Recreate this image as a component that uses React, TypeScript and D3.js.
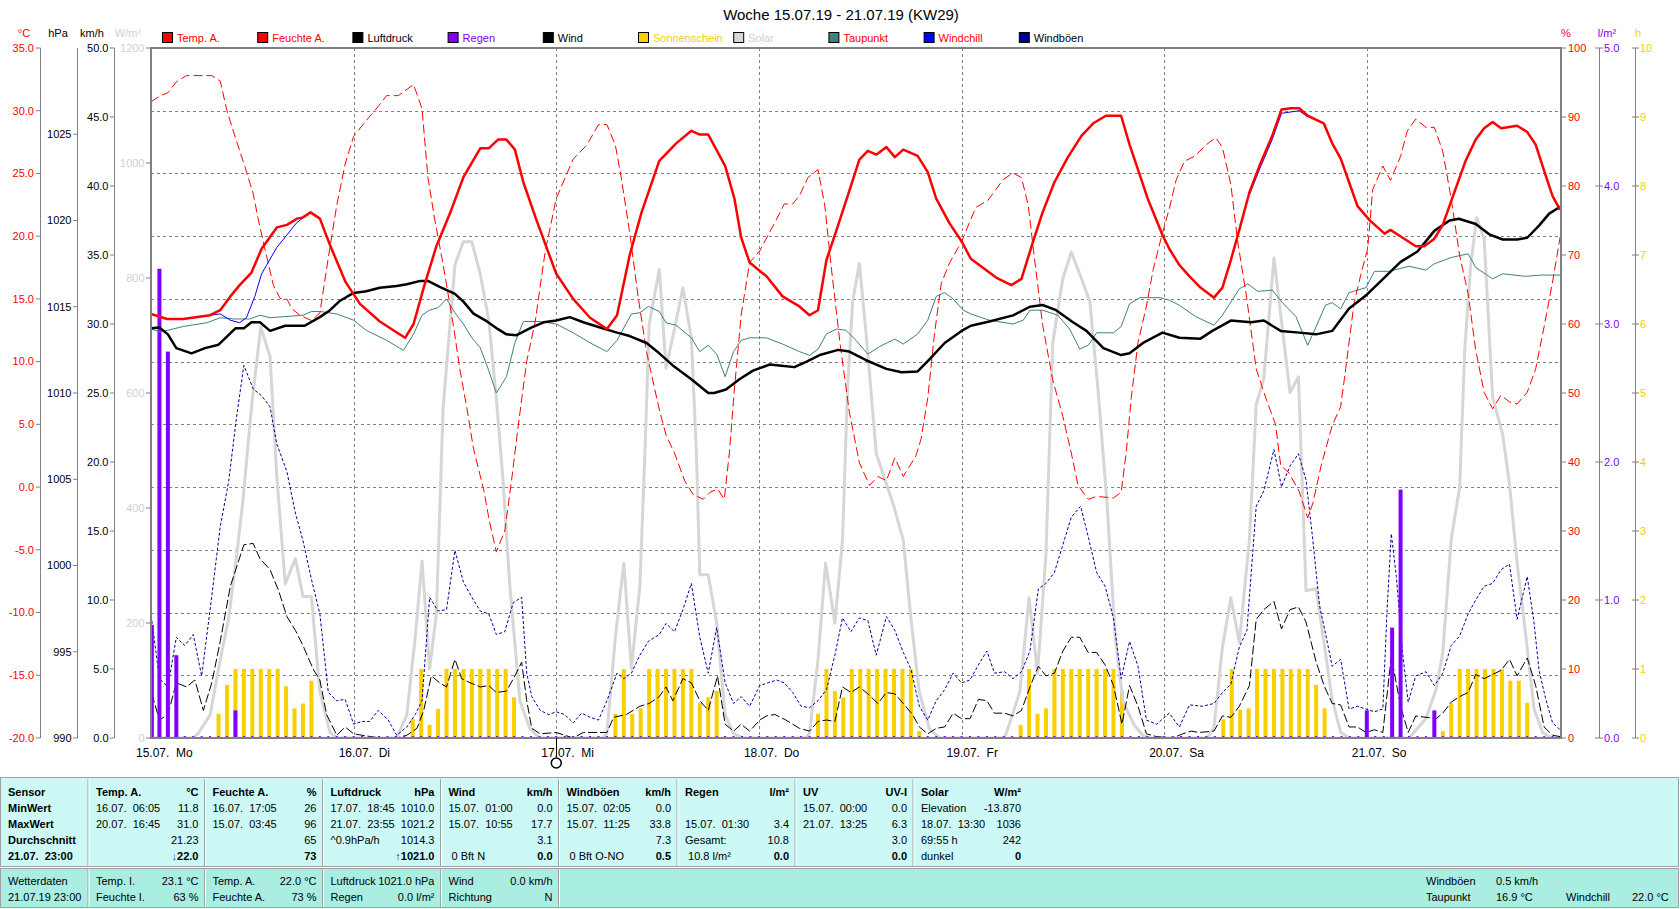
import React from 'react';
import * as d3 from 'd3';

type P = [number, number];

const TITLE = 'Woche 15.07.19 - 21.07.19 (KW29)';
const dayLabels = ['15.07.\u00a0\u00a0Mo', '16.07.\u00a0\u00a0Di', '17.07.\u00a0\u00a0Mi', '18.07.\u00a0\u00a0Do', '19.07.\u00a0\u00a0Fr', '20.07.\u00a0\u00a0Sa', '21.07.\u00a0\u00a0So'];
const tempTicks = [-20, -15, -10, -5, 0, 5, 10, 15, 20, 25, 30, 35];
const hpaTicks = [990, 995, 1000, 1005, 1010, 1015, 1020, 1025];
const kmhTicks = [0, 5, 10, 15, 20, 25, 30, 35, 40, 45, 50];
const solarTicks = [0, 200, 400, 600, 800, 1000, 1200];
const pctTicks = [0, 10, 20, 30, 40, 50, 60, 70, 80, 90, 100];
const rainTicks = [0, 1, 2, 3, 4, 5];
const sunTicks = [0, 1, 2, 3, 4, 5, 6, 7, 8, 9, 10];

const tempA: P[] = [[0,13.8],[1.9,13.4],[3.8,13.4],[7,13.7],[8.2,14.1],[9.4,15.2],[10.5,16.1],[11.9,17.1],[13.1,19.0],[14.9,20.7],[16.1,20.9],[17.3,21.4],[18,21.5],[18.9,21.9],[20,21.4],[21.2,19.3],[23,16.4],[24.75,14.6],[27.1,13.2],[28.7,12.5],[30.1,11.9],[31.1,13.0],[32.3,15.9],[33.8,19.2],[35.4,21.8],[37,24.7],[39,27.0],[40,27.0],[41.1,27.7],[42.1,27.7],[43.1,26.9],[44.1,24.3],[45.7,21.2],[48,17.0],[50,15.0],[52,13.5],[54,12.6],[55.2,13.7],[56.7,18.5],[58.1,21.9],[60.2,26.0],[62.2,27.4],[64,28.4],[65,28.1],[66,28.1],[68,25.6],[69.1,23.0],[69.9,19.9],[70.9,17.9],[72.9,16.8],[74.8,15.2],[76.8,14.4],[78,13.7],[79,14.1],[80,18.1],[81.2,20.5],[82.7,23.6],[83.9,26.1],[84.9,26.8],[85.9,26.5],[87.1,27.1],[88.1,26.3],[89.1,26.9],[90.8,26.4],[92,25.1],[93,23.0],[94.6,21.0],[96,19.6],[97.1,18.2],[98.5,17.5],[100.1,16.7],[101.9,16.1],[103.1,16.6],[104.3,19.2],[105.6,21.9],[107,24.3],[108.6,26.3],[110.2,28.0],[111.6,29.0],[113.1,29.6],[114.9,29.6],[115.9,27.3],[117.1,24.9],[118.1,22.9],[119.8,20.1],[120.6,19.0],[121.8,17.7],[123,16.8],[124.3,15.9],[125.9,15.1],[126.9,15.9],[127.9,18.1],[128.9,20.5],[130.1,23.5],[131.4,25.8],[132.8,28.0],[133.9,30.1],[135,30.2],[136,30.2],[137,29.6],[138.9,29.0],[139.9,27.4],[140.9,26.2],[141.9,24.3],[142.9,22.4],[144.3,21.3],[146.1,20.2],[146.8,20.5],[148.2,19.9],[149.8,19.2],[150.8,19.2],[152,19.8],[153,20.9],[154.1,23.0],[155.7,26.0],[156.9,27.7],[157.9,28.6],[158.9,29.1],[159.9,28.6],[161.8,28.8],[163,28.3],[164,27.3],[165.2,24.8],[166,23.2],[166.9,22.1]];

const windchillMon: P[] = [[7,13.7],[8.2,13.8],[9.4,13.3],[10.5,13.1],[11.3,13.5],[12.3,15.2],[13.1,17.0],[14.9,19.1],[16.1,20.1],[17.3,21.1],[18.9,21.9]];
const windchillSat: P[] = [[130.1,23.3],[131.4,25.5],[132.8,27.7],[133.9,29.8],[135,29.9],[136,30.0],[137,29.5]];

const humidity: P[] = [[0,92.2],[1.1,93.1],[2,93.5],[3,95.1],[4.2,96],[7.2,96],[8.2,95.2],[9,90.9],[10.1,86.6],[11.1,82.9],[12.1,78.9],[12.7,75.2],[13.3,71.9],[14.5,65.6],[15.3,63.7],[16.1,63.6],[16.7,62.2],[17.6,61.3],[19,60.5],[20,61.6],[21,69.6],[22,77.2],[23,83.2],[24,87.2],[25.5,89.5],[26.9,91.5],[27.9,93.1],[29.3,93.1],[31.1,94.7],[32.1,91.2],[32.8,81.2],[33.6,75.2],[34.6,68.6],[35.8,59.9],[36.6,53.3],[37.4,47.9],[38.2,41.9],[39.4,36.0],[40.1,31.3],[40.9,27.0],[41.9,30.0],[42.7,37.3],[43.5,45.3],[44.5,54.6],[45.5,60.3],[46.7,70.6],[48,78.2],[50,83.9],[51.6,85.9],[53,88.9],[54,88.9],[55,85.9],[55.7,81.2],[56.7,73.2],[57.7,63.9],[58.7,55.9],[60.2,47.6],[61,43.9],[62,41.3],[63.2,37.3],[64.2,35.3],[65.4,34.6],[66.2,35.6],[67.1,36.1],[67.9,34.6],[68.5,41.3],[69.1,50.6],[69.9,61.3],[70.9,68.9],[72.1,70.6],[73.1,72.9],[74.1,75.2],[75,77.4],[76,77.4],[76.8,78.6],[77.8,81.2],[79,82.4],[79.8,77.2],[80.6,67.9],[81.6,57.3],[82.7,47.3],[83.9,39.9],[85.1,36.6],[86.1,37.9],[87.1,37.3],[88.1,40.6],[89.1,37.9],[90.6,40.9],[91.2,43.3],[92,49.3],[92.8,58.6],[93.6,65.9],[94.6,68.9],[96,71.9],[96.9,74.6],[97.7,76.9],[99.1,77.9],[99.9,79.2],[100.9,80.9],[102.1,81.9],[103.1,81.2],[103.9,77.2],[104.6,69.9],[105.6,59.9],[106.8,51.9],[108,46.6],[109,41.3],[109.8,36.6],[111,34.6],[112,35.0],[114,34.8],[114.9,35.6],[115.5,41.3],[116.1,49.3],[116.9,57.3],[117.9,62.6],[118.7,67.9],[119.8,73.2],[120.6,76.7],[121.4,80.8],[122.4,83.6],[123.6,84.3],[125,86],[126.1,87],[126.9,85.6],[127.9,80.2],[128.7,72.0],[129.7,64.4],[130.9,53.5],[132,49.4],[133.2,45.4],[133.8,39.5],[134.8,38.4],[136,35.7],[137,31.9],[137.6,34.0],[138.6,39.5],[139.9,45.3],[140.9,48.0],[141.5,53.5],[142.5,63.1],[143.3,67.2],[144.1,70.9],[144.7,79.5],[145.9,82.9],[146.8,80.8],[148,84.3],[148.8,88.0],[149.8,89.7],[151,88.5],[152,88.5],[153,85.0],[154,78.1],[155,69.9],[156,64.4],[156.9,56.2],[157.9,50.1],[158.9,47.7],[159.9,49.7],[160.9,48.7],[161.8,48.4],[163,50.1],[164,53.5],[165,59.6],[166,66.1],[166.9,72.6]];

const pressure: P[] = [[0,1013.75],[1,1013.8],[2,1013.4],[3,1012.6],[4.8,1012.3],[6.4,1012.6],[8,1012.8],[10,1013.75],[11,1013.75],[11.9,1014.1],[12.9,1014.1],[14.1,1013.6],[15.9,1013.9],[18.2,1013.9],[20,1014.4],[21.2,1014.8],[22.4,1015.35],[24,1015.8],[25.5,1015.9],[27.1,1016.1],[29.1,1016.2],[30.3,1016.3],[31.9,1016.5],[32.8,1016.5],[34.2,1016.15],[36,1015.75],[37,1015.3],[38.2,1014.6],[39.8,1014.15],[41.1,1013.7],[42.1,1013.4],[43.3,1013.35],[45.1,1013.8],[46.5,1014.1],[48,1014.2],[49.6,1014.4],[51.2,1014.1],[53.2,1013.8],[55.2,1013.5],[56.7,1013.3],[58.7,1012.9],[60.2,1012.3],[61.8,1011.6],[64,1010.8],[66,1010.0],[66.7,1010.0],[68.1,1010.2],[69.7,1010.8],[71.3,1011.3],[73.3,1011.65],[74.4,1011.6],[76.2,1011.5],[77.6,1011.8],[79.2,1012.2],[81.4,1012.5],[82.7,1012.4],[84.7,1011.9],[87.1,1011.4],[88.9,1011.2],[90.8,1011.25],[92.2,1011.95],[94,1012.9],[96,1013.6],[97.1,1013.9],[99.3,1014.15],[102.1,1014.5],[104.1,1015.0],[105.6,1015.1],[107.2,1014.8],[109.2,1014.1],[110.8,1013.6],[112.8,1012.6],[114.9,1012.2],[115.9,1012.3],[117.5,1012.9],[119.8,1013.5],[121.8,1013.2],[124.3,1013.15],[125.7,1013.6],[127.9,1014.2],[130.3,1014.1],[131.8,1014.2],[133.8,1013.6],[136,1013.5],[138,1013.4],[139.9,1013.6],[141.9,1014.9],[144,1015.7],[145.9,1016.6],[148,1017.6],[150,1018.2],[152,1019.4],[153.8,1020.0],[154.9,1020.1],[156.9,1019.8],[158.5,1019.2],[160.1,1018.9],[161.8,1018.9],[163,1019.0],[164.4,1019.7],[165.6,1020.4],[166.9,1020.8]];

const dewPoint: P[] = [[0,12.6],[1,12.4],[2,12.5],[3.8,12.8],[6.6,13.1],[8.2,13.5],[9.8,13.4],[11.7,13.4],[12.9,13.7],[14.1,13.5],[16.1,13.6],[18,13.7],[19,14.0],[20,14.0],[22,13.8],[24,13.3],[25.5,12.5],[27.9,11.7],[29.9,10.9],[31.1,12.2],[32.1,13.7],[33,14.1],[34,14.3],[35,15.0],[36,13.9],[37,13.0],[38,11.9],[39,11.1],[40,9.3],[40.9,7.5],[42.1,8.8],[43.1,11.5],[44.1,13.2],[46.1,13.2],[48,13.0],[50,12.3],[52,11.5],[54,10.8],[55.2,11.7],[56.9,13.8],[57.9,13.9],[58.9,14.4],[60.2,14.0],[61,13.1],[62.2,12.9],[64,11.9],[65,10.8],[66,11.3],[67,10.6],[68,8.8],[69,10.8],[69.9,11.7],[70.9,11.9],[72.9,11.9],[74.8,11.4],[76.8,10.8],[78,10.5],[79,11.0],[80,12.2],[81.2,12.6],[82.3,12.5],[83.5,11.7],[84.9,10.6],[86.3,11.2],[88.1,11.8],[89.1,11.4],[90.8,12.2],[92,13.3],[93,15.2],[94,15.5],[95,15.0],[96.2,14.1],[97.1,13.8],[99.3,13.3],[102.1,13.0],[103.3,13.3],[104.1,14.1],[105.6,14.1],[107.4,13.7],[108.8,12.6],[110,11.0],[111,11.3],[112,12.3],[114,12.3],[114.9,12.8],[115.9,14.6],[117.1,15.1],[119.5,15.1],[120.6,14.9],[121.8,14.5],[123.7,13.6],[125.9,12.9],[126.9,13.7],[128.9,15.8],[129.9,16.2],[131.1,15.6],[132.8,15.7],[134,14.7],[135.6,13.6],[137,11.3],[138,12.8],[139.1,14.5],[139.9,14.7],[140.9,14.2],[141.9,15.5],[143.9,15.9],[144.9,17.2],[146.6,17.2],[149,17.6],[151,17.3],[152,17.8],[154,18.3],[156,18.6],[156.9,17.5],[158.9,16.6],[160.1,17.0],[162.8,16.8],[164.6,16.9],[166.9,16.9]];

const solar: P[] = [[0,0],[5,0],[5.6,8],[7,40],[8.2,136],[9.2,208],[10.1,312],[10.9,415],[11.9,575],[13,715],[14.1,663],[14.9,455],[15.9,268],[17.1,312],[18,246],[19,246],[20,80],[21.2,10],[22,0],[29.1,0],[30.3,40],[31.3,176],[32.1,308],[33,120],[33.8,216],[34.6,575],[36,823],[37,863],[38,863],[39,807],[40,727],[40.9,591],[41.7,447],[42.5,264],[43.7,64],[44.9,16],[46,0],[53.5,0],[54,8],[55,176],[56,304],[56.9,120],[57.9,264],[58.5,495],[59,719],[60.2,815],[61,643],[62,711],[63,783],[64,695],[64.6,495],[65,284],[66,284],[67,200],[68,40],[69,8],[70.1,0],[77.5,0],[78,8],[79,136],[79.9,304],[81,200],[81.9,344],[82.5,607],[83.1,759],[83.9,825],[84.7,703],[85.9,495],[87.9,407],[89.1,344],[90,208],[91,80],[92.2,16],[93.4,0],[101,0],[101.3,8],[102.9,80],[104,244],[105,112],[106,320],[106.8,687],[108,799],[109,845],[110,807],[111.2,759],[112.2,599],[113.2,415],[114.2,176],[115.1,64],[116.4,24],[117.5,4],[118.3,0],[125.1,0],[125.9,18],[126.9,158],[127.9,244],[128.9,166],[130.1,346],[130.9,580],[131.8,625],[133,835],[133.9,724],[134.9,601],[135.9,628],[136.8,256],[138,260],[139,158],[139.9,67],[140.9,10],[141.9,0],[149,0],[151,34],[152.2,84],[153,149],[154,346],[155,437],[155.6,675],[156.3,822],[157,905],[157.9,868],[158.9,593],[160.1,527],[160.9,441],[161.8,305],[162.8,182],[163.8,51],[164.8,10],[165.8,0],[167,0]];

const wind: P[] = [[0.1,3.2],[1,1.3],[2,1.7],[3,4.0],[4.2,3.7],[5.2,4.2],[6.2,2.0],[7.2,4.0],[8.2,7.0],[9.4,11.0],[11,14.0],[12.1,14.1],[12.9,13.0],[14.1,12.2],[15.1,10.7],[16.1,8.8],[17.1,7.8],[18,6.7],[19.2,5.0],[20,4.2],[20.8,1.7],[22,0.2],[23,0.8],[24,0.3],[25,0.2],[27.1,0],[29.1,0],[30.3,0.2],[31.5,0.7],[32.3,2.0],[33.2,4.5],[34.2,4.0],[35,3.7],[36,5.7],[36.8,4.3],[37.8,4.0],[39,3.7],[40,3.8],[40.9,3.3],[42.1,3.4],[43.1,4.5],[43.9,5.5],[44.5,2.7],[45.1,0.7],[46.1,0.3],[48,0.4],[50,0],[51.2,0.4],[54,0.4],[54.8,1.5],[56.3,1.7],[57.9,2.3],[59,2.5],[60.2,3.0],[61,3.7],[61.8,2.7],[63,4.3],[64,4.0],[65,2.7],[66,2.0],[67.1,4.5],[68,1.0],[69,0.5],[69.9,1.0],[70.9,0.5],[72.1,1.3],[72.9,1.6],[73.9,1.7],[75.2,1.3],[76.8,0.7],[78,0.5],[79,1.2],[80,1.3],[81,1.2],[81.9,3.7],[82.9,3.3],[83.9,3.7],[84.9,3.2],[86.1,2.5],[87.1,3.3],[88.1,3.2],[89.1,2.5],[90.2,1.7],[91,0.8],[92,0.3],[93,0.7],[94,0.8],[95,1.8],[96,1.4],[97,1.4],[98,2.8],[99,2.7],[99.9,1.8],[101.1,1.8],[102.1,1.6],[103.1,2.0],[104.1,3.7],[105.1,5.2],[106,4.5],[107,4.7],[108,6.3],[109,7.3],[110,7.3],[111,6.2],[112,6.2],[113,5.3],[114,3.8],[115,1.0],[115.9,3.8],[116.9,2.3],[117.9,0.3],[119.1,0.1],[121,0],[122.2,0.3],[123.2,0.5],[124.1,0.4],[125.9,0.5],[126.9,1.6],[127.9,1.5],[128.9,2.3],[130.1,3.8],[130.9,8.6],[131.8,9.3],[133,9.9],[133.9,7.9],[134.9,9.3],[135.9,9.5],[136.8,8.4],[138,5.5],[139,3.7],[139.9,2.5],[140.9,2.4],[141.9,0.8],[142.9,0.8],[143.9,0.4],[144.9,0.6],[145.9,0.4],[146.9,5.9],[148,2.3],[148.9,0.4],[149.8,1.6],[151,1.5],[152.2,1.4],[153,1.8],[154,2.6],[155,3.0],[156,3.3],[156.9,4.6],[157.9,4.3],[158.9,4.6],[159.9,4.9],[160.9,5.7],[161.8,4.5],[163,5.8],[164,3.8],[165,0.8],[166,0.2],[166.9,0.1]];

const gusts: P[] = [[0.1,8.5],[1,4.3],[2,3.7],[3,7.3],[4,6.7],[5,7.5],[6,4.5],[7,9.3],[8.2,15.3],[9.2,18.6],[10.1,23.1],[11,27.0],[12.1,25.3],[13.1,24.8],[14.1,24.0],[14.9,21.3],[16.1,19.3],[17.1,16.3],[18,14.3],[19,11.5],[20,9.0],[21,3.3],[22,2.7],[23,2.8],[24,1.0],[25,1.2],[25.9,1.2],[26.9,2.0],[28.1,1.3],[29.1,0.2],[30.3,0.8],[31.3,1.7],[32.1,2.7],[33,10.2],[34,9.2],[35,9.3],[36,13.6],[37,11.3],[38,10.2],[39,9.2],[40,9.0],[40.9,7.5],[41.9,7.7],[42.9,9.8],[43.9,10.2],[44.5,4.7],[45.1,3.0],[46.1,2.0],[47.1,1.7],[48,1.9],[49,1.7],[50,1.1],[51,1.8],[52,1.5],[53,1.3],[54,2.7],[55.2,4.7],[56,4.3],[56.9,4.7],[57.9,6.0],[58.9,7.0],[60.2,7.5],[61,8.3],[62,7.7],[63,9.3],[64,11.2],[65,7.3],[66,4.7],[67,8.0],[68,4.0],[69,2.5],[69.9,3.0],[70.9,2.3],[72.1,3.8],[73.1,4.0],[74.1,4.2],[75,4.0],[76,3.3],[77,2.3],[78,2.2],[79,2.7],[80,3.5],[81,6.0],[81.9,8.7],[82.9,7.7],[83.9,8.7],[84.9,8.5],[85.9,6.0],[87.1,8.8],[88.1,7.8],[89.1,6.2],[90,5.0],[91,2.3],[92,1.3],[93,2.7],[94,3.5],[95,4.7],[96,4.0],[97,4.2],[98,5.3],[99,6.3],[99.9,4.7],[101.1,4.8],[102.1,4.3],[103.1,4.8],[104.1,6.3],[105.1,10.8],[106,11.2],[107,12.0],[108,14.0],[109,16.0],[110.1,16.8],[111,14.6],[112,12.0],[113,11.0],[114,8.7],[114.9,4.3],[115.9,7.0],[116.9,5.2],[117.9,1.3],[119.1,1.0],[120.6,1.8],[121.8,0.8],[123,2.4],[124.5,2.3],[125.9,2.5],[126.9,3.3],[127.9,3.9],[128.9,6.6],[129.8,7.8],[130.9,16.8],[131.8,17.9],[133,20.9],[133.9,18.2],[134.9,19.7],[135.9,20.6],[136.8,18.7],[137.6,14.4],[138.4,9.6],[139.1,7.6],[139.9,5.2],[140.9,5.7],[141.9,2.1],[142.9,2.3],[143.9,2.1],[144.9,1.9],[145.9,2.1],[146.4,9.3],[146.9,14.8],[147.5,11.7],[148.2,6.4],[148.9,2.6],[149.8,4.5],[151,4.8],[152,3.8],[153,4.7],[154,6.7],[155,7.4],[156,9.0],[156.9,10.0],[157.9,11.0],[158.9,11.2],[159.9,12.2],[160.9,12.6],[161.8,8.6],[163,11.7],[163.8,8.4],[164.4,4.9],[165.2,2.8],[166,1.1],[166.9,0.6]];

const sunshine: P[] = [[8,0.35],[9,0.77],[10,1],[11,1],[12,1],[13,1],[14,1],[15,1],[16,0.75],[17,0.43],[18,0.5],[19,0.83],
[31,0.27],[32,1],[33,0.19],[34,0.42],[35,1],[36,1],[37,1],[38,1],[39,1],[40,1],[41,1],[42,1],[43,0.59],
[55,0.35],[56,1],[57,0.35],[58,0.43],[59,1],[60,1],[61,1],[62,1],[63,1],[64,1],[65,0.51],[66,0.59],[67,0.68],
[79,0.35],[80,1],[81,0.68],[82,0.59],[83,1],[84,1],[85,1],[86,1],[87,1],[88,1],[89,1],[90,1],[91,0.1],
[103,0.19],[104,1],[105,0.35],[106,0.43],[107,1],[108,1],[109,1],[110,1],[111,1],[112,1],[113,1],[114,1],[115,0.68],
[127,0.27],[128,1],[129,0.41],[130,0.43],[131,1],[132,1],[133,1],[134,1],[135,1],[136,1],[137,1],[138,0.77],[139,0.43],
[153,0.1],[154,0.5],[155,1],[156,1],[157,1],[158,1],[159,1],[160,1],[161,0.83],[162,0.83],[163,0.51]];

const rain: P[] = [[0.1,0.82],[1,3.4],[2,2.8],[3,0.6],[10,0.2],[144,0.2],[147,0.8],[148,1.8],[152,0.2]];

const legendItems = [
  { label: 'Temp. A.', box: '#ff0000', text: '#ff0000' },
  { label: 'Feuchte A.', box: '#ff0000', text: '#ff0000' },
  { label: 'Luftdruck', box: '#000000', text: '#000000' },
  { label: 'Regen', box: '#8000ff', text: '#8000ff' },
  { label: 'Wind', box: '#000000', text: '#000000' },
  { label: 'Sonnenschein', box: '#f8d000', text: '#f2cf00' },
  { label: 'Solar', box: '#d8d8d8', text: '#d0d0d0' },
  { label: 'Taupunkt', box: '#408080', text: '#ff0000' },
  { label: 'Windchill', box: '#0000ff', text: '#ff0000' },
  { label: 'Windböen', box: '#000090', text: '#000000' },
];

const NB = '\u00a0';
const tableCols: { rows: [string, string, boolean][] }[] = [
  { rows: [['Temp. A.', '°C', true], ['16.07.' + NB + NB + '06:05', '11.8', false], ['20.07.' + NB + NB + '16:45', '31.0', false], ['', '21.23', false], ['', '22.0', true]] },
  { rows: [['Feuchte A.', '%', true], ['16.07.' + NB + NB + '17:05', '26', false], ['15.07.' + NB + NB + '03:45', '96', false], ['', '65', false], ['', '73', true]] },
  { rows: [['Luftdruck', 'hPa', true], ['17.07.' + NB + NB + '18:45', '1010.0', false], ['21.07.' + NB + NB + '23:55', '1021.2', false], ['^0.9hPa/h', '1014.3', false], ['', '1021.0', true]] },
  { rows: [['Wind', 'km/h', true], ['15.07.' + NB + NB + '01:00', '0.0', false], ['15.07.' + NB + NB + '10:55', '17.7', false], ['', '3.1', false], [NB + '0 Bft N', '0.0', true]] },
  { rows: [['Windböen', 'km/h', true], ['15.07.' + NB + NB + '02:05', '0.0', false], ['15.07.' + NB + NB + '11:25', '33.8', false], ['', '7.3', false], [NB + '0 Bft O-NO', '0.5', true]] },
  { rows: [['Regen', 'l/m²', true], ['', '', false], ['15.07.' + NB + NB + '01:30', '3.4', false], ['Gesamt:', '10.8', false], [NB + '10.8 l/m²', '0.0', true]] },
  { rows: [['UV', 'UV-I', true], ['15.07.' + NB + NB + '00:00', '0.0', false], ['21.07.' + NB + NB + '13:25', '6.3', false], ['', '3.0', false], ['', '0.0', true]] },
  { rows: [['Solar', 'W/m²', true], ['Elevation', '-13.870', false], ['18.07.' + NB + NB + '13:30', '1036', false], ['69:55 h', '242', false], ['dunkel', '0', true]] },
];
const sensorLabels = ['Sensor', 'MinWert', 'MaxWert', 'Durchschnitt', '21.07.' + NB + NB + '23:00'];
const lowerCols: [string, string][][] = [
  [['Temp. I.', '23.1 °C'], ['Feuchte I.', '63 %']],
  [['Temp. A.', '22.0 °C'], ['Feuchte A.', '73 %']],
  [['Luftdruck', '1021.0 hPa'], ['Regen', '0.0 l/m²']],
  [['Wind', '0.0 km/h'], ['Richtung', 'N']],
];

const FONT = 'Liberation Sans, Arial, sans-serif';
const PL = 151, PR = 1561, PT = 48, PB = 738;

export default function App() {
  const x = d3.scaleLinear().domain([0, 167]).range([PL, PR]);
  const yT = d3.scaleLinear().domain([-20, 35]).range([PB, PT]);
  const yP = d3.scaleLinear().domain([990, 1030]).range([PB, PT]);
  const yK = d3.scaleLinear().domain([0, 50]).range([PB, PT]);
  const yS = d3.scaleLinear().domain([0, 1200]).range([PB, PT]);
  const yPct = d3.scaleLinear().domain([0, 100]).range([PB, PT]);
  const yR = d3.scaleLinear().domain([0, 5]).range([PB, PT]);
  const yH = d3.scaleLinear().domain([0, 10]).range([PB, PT]);

  const mk = (ys: d3.ScaleLinear<number, number>) =>
    d3.line<P>().x(d => x(d[0])).y(d => ys(d[1]));

  const dayXs = dayLabels.map((_, i) => x(i * 24));
  const hours = d3.range(0, 168);
  const sepX = [88, 204.5, 322.5, 440.5, 558.5, 677, 795, 913];
  const rowY = [796, 812, 828, 844, 860];

  return (
    <svg width={1680} height={909} style={{ position: 'absolute', left: 0, top: 0, background: '#fff' }} fontFamily={FONT}>
      <defs>
        <clipPath id="plotClip"><rect x={PL} y={PT - 2} width={PR - PL} height={PB - PT + 2} /></clipPath>
      </defs>
      <text x={841} y={20} fontSize={15} textAnchor="middle" fill="#000">{TITLE}</text>

      <g fontSize={11}>
        <text x={24} y={37} textAnchor="middle" fill="#ff0000">°C</text>
        <text x={58} y={37} textAnchor="middle" fill="#000">hPa</text>
        <text x={92} y={37} textAnchor="middle" fill="#000">km/h</text>
        <text x={128} y={37} textAnchor="middle" fill="#d0d0d0">W/m²</text>
        <text x={1566} y={37} textAnchor="middle" fill="#ff0000">%</text>
        <text x={1607} y={37} textAnchor="middle" fill="#8000ff">l/m²</text>
        <text x={1638} y={37} textAnchor="middle" fill="#f2cf00">h</text>
      </g>

      <g fontSize={11}>
        {legendItems.map((it, i) => {
          const lx = 162 + i * 95.2;
          return (
            <g key={it.label}>
              <rect x={lx + 0.5} y={32.5} width={10} height={10} fill={it.box} stroke="#000" />
              <text x={lx + 15} y={41.5} fill={it.text}>{it.label}</text>
            </g>
          );
        })}
      </g>

      <g stroke="#808080" strokeDasharray="3,3" strokeWidth={1}>
        {tempTicks.slice(1, -1).map(t => (
          <line key={'h' + t} x1={PL} x2={PR} y1={Math.round(yT(t)) + 0.5} y2={Math.round(yT(t)) + 0.5} />
        ))}
        {dayXs.slice(1).map((dx, i) => (
          <line key={'v' + i} x1={Math.round(dx) + 0.5} x2={Math.round(dx) + 0.5} y1={PT} y2={PB} />
        ))}
      </g>

      <g clipPath="url(#plotClip)">
        {sunshine.map(([h, v]) => (
          <rect key={'s' + h} x={x(h) - 2} y={yH(v)} width={4} height={PB - yH(v)} fill="#f8d000" />
        ))}
        <path d={mk(yS)(solar) || ''} fill="none" stroke="#d6d6d6" strokeWidth={3} strokeLinejoin="round" />
        <path d={mk(yK)(gusts) || ''} fill="none" stroke="#000098" strokeWidth={1} strokeDasharray="3,2" />
        <path d={mk(yK)(wind) || ''} fill="none" stroke="#000" strokeWidth={1} strokeDasharray="9,3" />
        {rain.map(([h, v]) => (
          <rect key={'r' + h} x={x(h) - 2} y={yR(v)} width={4} height={PB - yR(v)} fill="#8000ff" />
        ))}
        {hours.map(h => (
          <rect key={'m' + h} x={x(h) - 1} y={PB - 2} width={2} height={2} fill="#8000ff" />
        ))}
        <path d={mk(yT)(dewPoint) || ''} fill="none" stroke="#408080" strokeWidth={1} />
        <path d={mk(yPct)(humidity) || ''} fill="none" stroke="#ff0000" strokeWidth={1} strokeDasharray="9,4" />
        <path d={mk(yP)(pressure) || ''} fill="none" stroke="#000" strokeWidth={2.5} strokeLinejoin="round" />
        <path d={mk(yT)(windchillMon) || ''} fill="none" stroke="#0000ff" strokeWidth={1} />
        <path d={mk(yT)(windchillSat) || ''} fill="none" stroke="#0000ff" strokeWidth={1} />
        <path d={mk(yT)(tempA) || ''} fill="none" stroke="#ff0000" strokeWidth={2.5} strokeLinejoin="round" />
      </g>

      <rect x={PL} y={PT} width={PR - PL} height={PB - PT} fill="none" stroke="#808080" strokeWidth={2} />

      <g fontSize={11}>
        <line x1={40.5} x2={40.5} y1={PT} y2={PB} stroke="#808080" />
        {tempTicks.map(t => (
          <g key={'tt' + t}>
            <line x1={36} x2={40.5} y1={yT(t)} y2={yT(t)} stroke="#808080" />
            <text x={34} y={yT(t)} dy="0.35em" textAnchor="end" fill="#ff0000">{t.toFixed(1)}</text>
          </g>
        ))}
        <line x1={77.5} x2={77.5} y1={PT} y2={PB} stroke="#808080" />
        {hpaTicks.map(t => (
          <g key={'hp' + t}>
            <line x1={73} x2={77.5} y1={yP(t)} y2={yP(t)} stroke="#808080" />
            <text x={71.5} y={yP(t)} dy="0.35em" textAnchor="end" fill="#000">{t}</text>
          </g>
        ))}
        <line x1={114.5} x2={114.5} y1={PT} y2={PB} stroke="#808080" />
        {kmhTicks.map(t => (
          <g key={'km' + t}>
            <line x1={110} x2={114.5} y1={yK(t)} y2={yK(t)} stroke="#808080" />
            <text x={108.5} y={yK(t)} dy="0.35em" textAnchor="end" fill="#000">{t.toFixed(1)}</text>
          </g>
        ))}
        {solarTicks.map(t => (
          <g key={'so' + t}>
            <line x1={146} x2={PL} y1={yS(t)} y2={yS(t)} stroke="#808080" />
            <text x={144.5} y={yS(t)} dy="0.35em" textAnchor="end" fill="#d0d0d0">{t}</text>
          </g>
        ))}
      </g>

      <g fontSize={11}>
        {pctTicks.map(t => (
          <g key={'pc' + t}>
            <line x1={PR} x2={PR + 5} y1={yPct(t)} y2={yPct(t)} stroke="#808080" />
            <text x={PR + 7} y={yPct(t)} dy="0.35em" fill="#ff0000">{t}</text>
          </g>
        ))}
        <line x1={1599.5} x2={1599.5} y1={PT} y2={PB} stroke="#808080" />
        {rainTicks.map(t => (
          <g key={'rt' + t}>
            <line x1={1595} x2={1603} y1={yR(t)} y2={yR(t)} stroke="#808080" />
            <text x={1604} y={yR(t)} dy="0.35em" fill="#8000ff">{t.toFixed(1)}</text>
          </g>
        ))}
        <line x1={1635.5} x2={1635.5} y1={PT} y2={PB} stroke="#808080" />
        {sunTicks.map(t => (
          <g key={'st' + t}>
            <line x1={1632} x2={1639} y1={yH(t)} y2={yH(t)} stroke="#808080" />
            <text x={1640} y={yH(t)} dy="0.35em" fill="#f2cf00">{t}</text>
          </g>
        ))}
      </g>

      <g fontSize={12}>
        {dayLabels.map((d, i) => (
          <text key={d} x={dayXs[i] - 15} y={757} fill="#000">{d}</text>
        ))}
      </g>
      <line x1={Math.round(dayXs[2]) + 0.5} x2={Math.round(dayXs[2]) + 0.5} y1={PB} y2={757} stroke="#000" />
      <circle cx={dayXs[2]} cy={763} r={5} fill="#fff" stroke="#000" strokeWidth={1.5} />

      <g fontSize={11}>
        <rect x={0.5} y={777.5} width={1678} height={89} fill="#ccf9f6" stroke="#a0a0a0" />
        <rect x={0.5} y={868.5} width={1678} height={39} fill="#aaeee2" stroke="#a0a0a0" />
        {sepX.map((sx, i) => (
          <g key={'sep' + i}>
            <line x1={sx} x2={sx} y1={779} y2={866} stroke="#a0a0a0" />
            <line x1={sx + 1} x2={sx + 1} y1={779} y2={866} stroke="#ffffff" />
          </g>
        ))}
        {sepX.slice(0, 5).map((sx, i) => (
          <g key={'sepl' + i}>
            <line x1={sx} x2={sx} y1={869} y2={907} stroke="#a0a0a0" />
            <line x1={sx + 1} x2={sx + 1} y1={869} y2={907} stroke="#ffffff" />
          </g>
        ))}
        {sensorLabels.map((s, i) => (
          <text key={'sl' + i} x={8} y={rowY[i]} fontWeight="bold" fill="#000">{s}</text>
        ))}
        {tableCols.map((col, ci) => {
          const left = sepX[ci] + 8;
          const right = ci + 1 < sepX.length ? sepX[ci + 1] - 6 : 1021;
          return (
            <g key={'col' + ci}>
              {col.rows.map((r, ri) => (
                <g key={'r' + ri}>
                  <text x={left} y={rowY[ri]} fontWeight={ri === 0 ? 'bold' : 'normal'} fill="#000">{r[0]}</text>
                  <text x={right} y={rowY[ri]} textAnchor="end" fontWeight={r[2] ? 'bold' : 'normal'} fill="#000">
                    {ri === 4 && ci === 0 ? <tspan fill="#0040ff">↓</tspan> : null}
                    {ri === 4 && ci === 2 ? <tspan fill="#402000">↑</tspan> : null}
                    {r[1]}
                  </text>
                </g>
              ))}
            </g>
          );
        })}
        <text x={8} y={885} fill="#000">Wetterdaten</text>
        <text x={8} y={901} fill="#000">21.07.19 23:00</text>
        {lowerCols.map((col, ci) => (
          <g key={'lc' + ci}>
            {col.map((r, ri) => (
              <g key={'lr' + ri}>
                <text x={sepX[ci] + 8} y={885 + ri * 16} fill="#000">{r[0]}</text>
                <text x={sepX[ci + 1] - 6} y={885 + ri * 16} textAnchor="end" fill="#000">{r[1]}</text>
              </g>
            ))}
          </g>
        ))}
        <text x={1426} y={885} fill="#000">Windböen</text>
        <text x={1496} y={885} fill="#000">0.5 km/h</text>
        <text x={1426} y={901} fill="#000">Taupunkt</text>
        <text x={1496} y={901} fill="#000">16.9 °C</text>
        <text x={1566} y={901} fill="#000">Windchill</text>
        <text x={1632} y={901} fill="#000">22.0 °C</text>
      </g>
    </svg>
  );
}
